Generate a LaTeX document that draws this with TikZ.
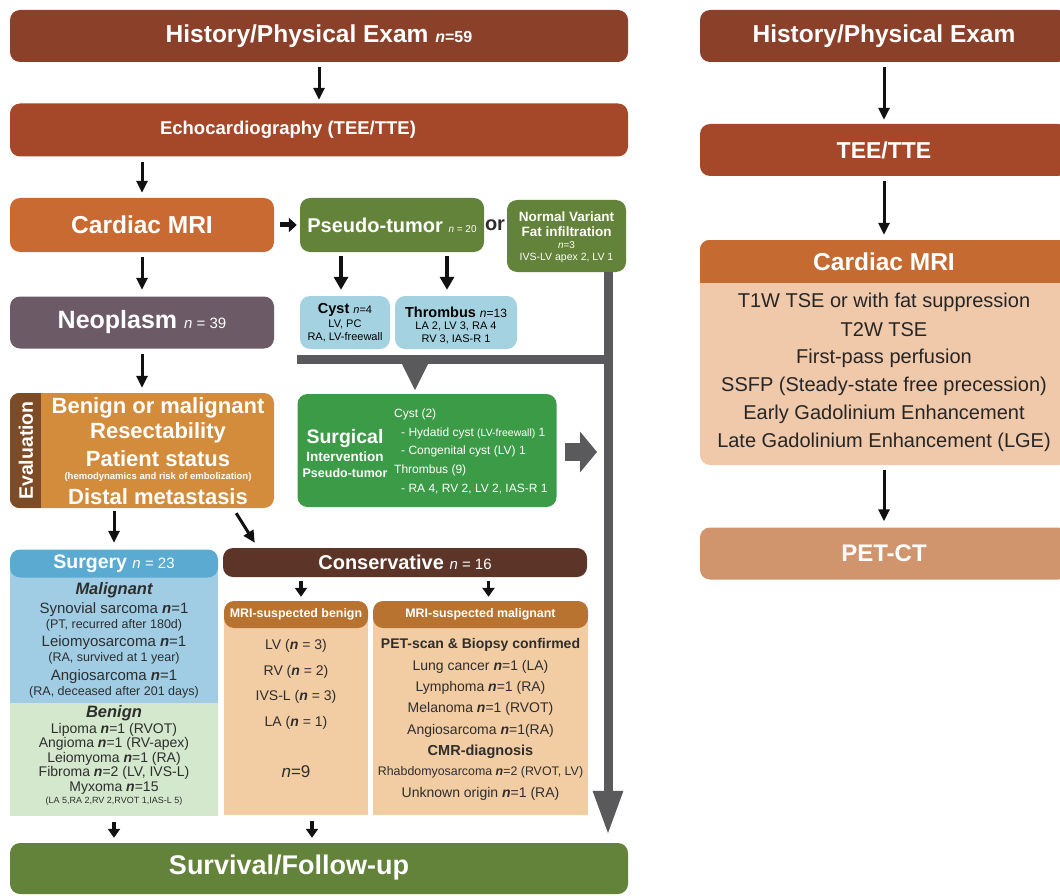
\documentclass[tikz,border=0pt]{standalone}
\usepackage{fontspec}
\setmainfont{Liberation Sans}
\usepackage{tikz}
\usetikzlibrary{arrows.meta,calc}
\definecolor{HistCol}{HTML}{8B402A}
\definecolor{EchoCol}{HTML}{A5482A}
\definecolor{MriCol}{HTML}{C86A32}
\definecolor{MriHead}{HTML}{C56B31}
\definecolor{MriBody}{HTML}{F0C8AA}
\definecolor{PetCol}{HTML}{D0956C}
\definecolor{OliveCol}{HTML}{63823A}
\definecolor{NeoCol}{HTML}{6C5B66}
\definecolor{CystCol}{HTML}{A5D2E1}
\definecolor{EvalCol}{HTML}{D28C3C}
\definecolor{EvalBar}{HTML}{7D4B26}
\definecolor{SurgCol}{HTML}{3C9B46}
\definecolor{BlueHead}{HTML}{5AAAD2}
\definecolor{BlueBody}{HTML}{A0CDE4}
\definecolor{MintBody}{HTML}{D4E8CD}
\definecolor{ConsCol}{HTML}{5C3428}
\definecolor{PeachHead}{HTML}{B97330}
\definecolor{PeachBody}{HTML}{F2CCA3}
\definecolor{GrayCol}{HTML}{5A5A5C}
\definecolor{ArrCol}{HTML}{111111}
\definecolor{InkCol}{HTML}{2E2E2E}
\tikzset{
  fcbox/.style={rectangle, rounded corners=10pt, inner sep=0pt, text=white, font=\bfseries},
  fcpanel/.style={rectangle, inner sep=0pt},
  fctxt/.style={inner sep=0pt, text=white, font=\bfseries},
  fcitem/.style={inner sep=0pt, text=InkCol},
  fcarr/.style={-{Triangle[length=12pt,width=11pt]}, line width=3pt, draw=ArrCol},
  fcfat/.style={-{Triangle[length=9pt,width=12pt]}, line width=3.5pt, draw=ArrCol},
  fcgray/.style={line width=9pt, draw=GrayCol}
}
\newcommand{\fz}[1]{\fontsize{#1}{#1}\selectfont}
\newcommand{\nbi}{\textbf{\textit{n}}}

\begin{document}
\begin{tikzpicture}[x=1pt,y=-1pt]
  \useasboundingbox (0,0) rectangle (1060,896);
  \clip (0,0) rectangle (1060,896);

  % left column, top part
  \node[fcbox, fill=HistCol, minimum width=618pt, minimum height=52pt] (hist) at (319,36)
    {\fz{24.5}History/Physical Exam {\fz{16}\textit{n}=59}};
  \node[fcbox, fill=EchoCol, minimum width=618pt, minimum height=53pt] (echo) at (319,130) {};
  \node[fctxt] (echotxt) at (288,130) {\fz{18.5}Echocardiography (TEE/TTE)};
  \node[fcbox, fill=MriCol, minimum width=264pt, minimum height=54pt] (mri) at (142,225)
    {\fz{24.5}Cardiac MRI};
  \node[fcbox, fill=OliveCol, minimum width=184pt, minimum height=54pt] (pseudo) at (392,225)
    {\fz{20}Pseudo-tumor {\mdseries\fz{10}\textit{n} = 20}};
  \node[fctxt, text=InkCol] (ortxt) at (495,225) {\fz{20}or};
  \node[fcbox, fill=OliveCol, minimum width=119pt, minimum height=72pt] (normal) at (566.5,236) {};
  \node[fctxt] (nv1) at (566.5,217) {\fz{13.5}Normal Variant};
  \node[fctxt] (nv2) at (566.5,232) {\fz{13.5}Fat infiltration};
  \node[fctxt, font=\mdseries] (nv3) at (566.5,245) {\fz{10}\textit{n}=3};
  \node[fctxt, font=\mdseries] (nv4) at (566.5,258) {\fz{10.5}IVS-LV apex 2, LV 1};
  \node[fcbox, fill=NeoCol, minimum width=264pt, minimum height=52pt] (neo) at (142,322.5)
    {\fz{25}Neoplasm {\mdseries\fz{15}\textit{n} = 39}};
  \node[fcbox, fill=CystCol, minimum width=90pt, minimum height=53pt] (cyst) at (345,322.5) {};
  \node[fctxt, text=black] (cy1) at (345,310) {\fz{14.5}Cyst {\mdseries\fz{11}\textit{n}=4}};
  \node[fcitem, text=black] (cy2) at (345,324) {\fz{11}LV, PC};
  \node[fcitem, text=black] (cy3) at (345,337) {\fz{11}RA, LV-freewall};
  \node[fcbox, fill=CystCol, minimum width=122pt, minimum height=53pt] (thromb) at (456,322.5) {};
  \node[fctxt, text=black] (th1) at (456,312) {\fz{14.5}Thrombus {\mdseries\fz{12}\textit{n}=13}};
  \node[fcitem, text=black] (th2) at (456,326) {\fz{11}LA 2, LV 3, RA 4};
  \node[fcitem, text=black] (th3) at (456,339) {\fz{11}RV 3, IAS-R 1};

  % evaluation
  \node[fcbox, fill=EvalCol, minimum width=264pt, minimum height=115pt] (eval) at (142,450.5) {};
  \begin{scope}
    \clip[rounded corners=10pt] (eval.north west) rectangle (eval.south east);
    \fill[EvalBar] (eval.north west) rectangle ([xshift=31pt]eval.south west);
  \end{scope}
  \node[fctxt, rotate=90] (evtag) at ([xshift=16pt]eval.west) {\fz{19.5}Evaluation};
  \node[fctxt] (ev1) at (158,408) {\fz{22}Benign or malignant};
  \node[fctxt] (ev2) at (158,433) {\fz{22}Resectability};
  \node[fctxt] (ev3) at (158,459) {\fz{22}Patient status};
  \node[fctxt] (ev4) at (158,477) {\fz{9.5}(hemodynamics and risk of embolization)};
  \node[fctxt] (ev5) at (158,497) {\fz{22}Distal metastasis};

  % surgical intervention of pseudo-tumors
  \node[fcbox, fill=SurgCol, minimum width=259pt, minimum height=113pt] (surgical) at (427,450.5) {};
  \node[fctxt] (sg1) at (345,438) {\fz{19.5}Surgical};
  \node[fctxt] (sg2) at (345,457) {\fz{13.5}Intervention};
  \node[fctxt] (sg3) at (345,473) {\fz{12.5}Pseudo-tumor};
  \foreach \xx/\yy/\lbl [count=\i] in {394/414/{Cyst (2)},
      401/433/{- Hydatid cyst {\fz{10.5}(LV-freewall)} 1},
      401/451/{- Congenital cyst (LV) 1},
      394/470/{Thrombus (9)},
      401/489/{- RA 4, RV 2, LV 2, IAS-R 1}}
    \node[fcitem, text=white, anchor=west] (sl\i) at (\xx,\yy) {\fz{12}\lbl};

  % surgery
  \node[fcpanel, fill=MintBody, minimum width=208pt, minimum height=256pt] (surgery) at (114,688) {};
  \fill[BlueBody] (surgery.north west) rectangle (surgery.east |- 0,703);
  \node[fcbox, fill=BlueHead, minimum width=208pt, minimum height=28pt] (surghead) at (114,563.5)
    {\fz{19.5}Surgery {\mdseries\fz{15}\textit{n} = 23}};
  \foreach \yy/\lbl [count=\i] in {590/{\bfseries\itshape\fz{16.5}Malignant},
      610/{\fz{15}Synovial sarcoma \nbi=1},
      625/{\fz{12.5}(PT, recurred after 180d)},
      643/{\fz{15}Leiomyosarcoma \nbi=1},
      658/{\fz{12.5}(RA, survived at 1 year)},
      677/{\fz{15}Angiosarcoma \nbi=1},
      692/{\fz{12.5}(RA, deceased after 201 days)},
      713/{\bfseries\itshape\fz{16.5}Benign},
      730/{\fz{14}Lipoma \nbi=1 (RVOT)},
      744/{\fz{14}Angioma \nbi=1 (RV-apex)},
      759/{\fz{14}Leiomyoma \nbi=1 (RA)},
      773/{\fz{14}Fibroma \nbi=2 (LV, IVS-L)},
      788/{\fz{14}Myxoma \nbi=15},
      801/{\fz{9}(LA 5,RA 2,RV 2,RVOT 1,IAS-L 5)}}
    \node[fcitem] (sr\i) at (114,\yy) {\lbl};

  % conservative
  \node[fcbox, fill=ConsCol, minimum width=364pt, minimum height=29pt] (cons) at (405,562.5)
    {\fz{20}Conservative {\mdseries\fz{15}\textit{n} = 16}};
  \node[fcpanel, fill=PeachBody, minimum width=144pt, minimum height=203pt] (susben) at (296,713.5) {};
  \node[fcbox, fill=PeachHead, minimum width=144pt, minimum height=27pt] (benhead) at (296,614.5)
    {\fz{12.4}MRI-suspected benign};
  \node[fcpanel, fill=PeachBody, minimum width=215pt, minimum height=203pt] (susmal) at (480.5,713.5) {};
  \node[fcbox, fill=PeachHead, minimum width=215pt, minimum height=27pt] (malhead) at (480.5,614.5)
    {\fz{12.4}MRI-suspected malignant};
  \foreach \yy/\lbl [count=\i] in {646/{LV (\nbi{} = 3)}, 672/{RV (\nbi{} = 2)},
      697/{IVS-L (\nbi{} = 3)}, 723/{LA (\nbi{} = 1)}, 772/{\fz{17}\textit{n}=9}}
    \node[fcitem] (bl\i) at (296,\yy) {\fz{14}\lbl};
  \foreach \yy/\lbl [count=\i] in {645/{\bfseries PET-scan \& Biopsy confirmed},
      667/{Lung cancer \nbi=1 (LA)},
      688/{Lymphoma \nbi=1 (RA)},
      709/{Melanoma \nbi=1 (RVOT)},
      731/{Angiosarcoma \nbi=1(RA)},
      752/{\bfseries\fz{14.5}CMR-diagnosis},
      772/{\fz{12.4}Rhabdomyosarcoma \nbi=2 (RVOT, LV)},
      794/{Unknown origin \nbi=1 (RA)}}
    \node[fcitem] (ml\i) at (480.5,\yy) {\fz{14}\lbl};

  % survival
  \node[fcbox, fill=OliveCol, minimum width=618pt, minimum height=51pt] (surv) at (319,868.5) {};
  \node[fctxt] (survtxt) at (289,868) {\fz{27}Survival/Follow-up};

  % black arrows
  \draw[fcarr, shorten <=5pt, shorten >=3.5pt] (hist) -- (echo);
  \draw[fcarr, shorten <=5.5pt, shorten >=5pt] (echo.south -| mri.north) -- (mri.north);
  \draw[fcarr, line width=5pt, -{Triangle[length=8pt,width=14pt]}, shorten <=6pt, shorten >=3pt]
    (mri.east) -- (mri.east -| pseudo.west);
  \draw[fcarr, line width=4pt, -{Triangle[length=13pt,width=14pt]}, shorten <=4pt, shorten >=6pt]
    ([xshift=-4pt]pseudo.south -| cyst.north) -- ([xshift=-4pt]cyst.north);
  \draw[fcarr, line width=4pt, -{Triangle[length=13pt,width=14pt]}, shorten <=4pt, shorten >=6pt]
    ([xshift=-9pt]pseudo.south -| thromb.north) -- ([xshift=-9pt]thromb.north);
  \draw[fcarr, shorten <=5pt, shorten >=6.5pt] (mri) -- (neo);
  \draw[fcarr, shorten <=5.5pt, shorten >=5pt] (neo) -- (eval);
  \draw[fcarr, shorten <=3pt, shorten >=6.5pt] (eval.south -| surghead.north) -- (surghead.north);
  \draw[fcarr] ([xshift=-38pt,yshift=-5pt]eval.south east) -- ([xshift=32pt,yshift=5pt]cons.north west);
  \draw[fcfat, shorten <=4pt, shorten >=4pt] ([xshift=5pt]cons.south -| benhead.north) -- ([xshift=5pt]benhead.north);
  \draw[fcfat, shorten <=4pt, shorten >=4pt] ([xshift=8pt]cons.south -| malhead.north) -- ([xshift=8pt]malhead.north);
  \draw[fcfat, shorten <=6pt, shorten >=5pt] (surgery.south) -- (surgery.south |- surv.north);
  \coordinate (benfoot) at ([xshift=16pt]susben.south);
  \draw[fcfat, shorten <=6pt, shorten >=5pt] (benfoot) -- (benfoot |- surv.north);

  % grey connectors
  \coordinate (drop) at ([xshift=41.5pt]normal.south);
  \coordinate (barL) at (297,359.5);
  \coordinate (sdrop) at ([xshift=-12pt]surgical.north);
  \draw[fcgray] (barL) -- (barL -| drop);
  \draw[fcgray, -{Triangle[length=44pt,width=28pt]}, shorten >=8pt] (drop) -- (drop |- surv.north);
  \draw[fcgray, -{Triangle[length=27pt,width=24pt]}, shorten >=3pt] (sdrop |- barL) -- (sdrop);
  \draw[fcgray, line width=18pt, -{Triangle[length=17pt,width=40pt]}, shorten <=8pt, shorten >=11pt]
    ([yshift=-1.5pt]surgical.east) -- ([yshift=-1.5pt]surgical.east -| drop);

  % right column
  \node[fcbox, fill=HistCol, minimum width=368pt, minimum height=52pt] (hist2) at (884,36)
    {\fz{24.5}History/Physical Exam};
  \node[fcbox, fill=EchoCol, minimum width=368pt, minimum height=52pt] (tee) at (884,150)
    {\fz{23}TEE/TTE};
  \node[fcbox, fill=MriBody, minimum width=368pt, minimum height=225pt] (mri2) at (884,352.5) {};
  \begin{scope}
    \clip[rounded corners=10pt] (mri2.north west) rectangle (mri2.south east);
    \fill[MriHead] (mri2.north west) rectangle (mri2.east |- 0,283);
  \end{scope}
  \node[fctxt] (mri2txt) at (884,262) {\fz{24.5}Cardiac MRI};
  \foreach \lbl [count=\i] in {T1W TSE or with fat suppression, T2W TSE, First-pass perfusion,
      SSFP (Steady-state free precession), Early Gadolinium Enhancement,
      Late Gadolinium Enhancement (LGE)}
    \node[fcitem, text=black!85] (seq\i) at (884,274+28*\i) {\fz{20}\lbl};
  \node[fcbox, fill=PetCol, minimum width=368pt, minimum height=52pt] (pet) at (884,553.5)
    {\fz{24}PET-CT};
  \draw[fcarr, shorten <=5pt, shorten >=4pt] (hist2) -- (tee);
  \draw[fcarr, shorten <=5pt, shorten >=5pt] (tee) -- (mri2);
  \draw[fcarr, shorten <=5pt, shorten >=6pt] (mri2) -- (pet);
\end{tikzpicture}
\end{document}
